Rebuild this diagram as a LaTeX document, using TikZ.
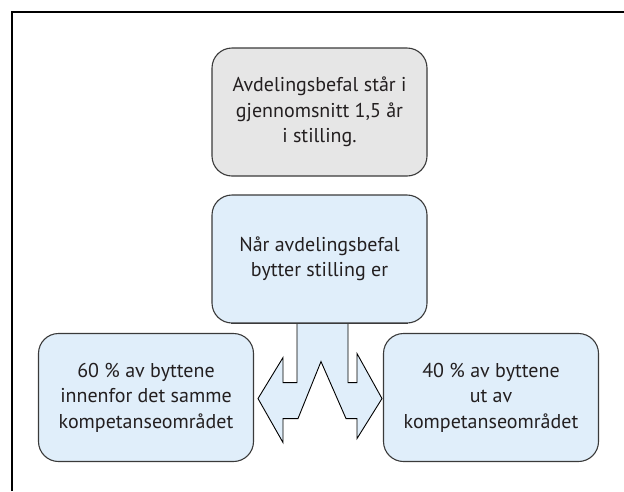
\documentclass[tikz,border=0pt]{standalone}
\usepackage{fontspec}
\setmainfont{PT Sans}
\usetikzlibrary{calc}
\definecolor{boxgray}{HTML}{E6E6E6}
\definecolor{boxblue}{HTML}{E0EEFA}
\definecolor{edge}{HTML}{3A3A3A}
\definecolor{ink}{HTML}{231F20}
\begin{document}
\begin{tikzpicture}[x=1pt,y=-1pt,
  infobox/.style={draw=edge, line width=1.1pt, rounded corners=20pt,
    minimum width=215pt, minimum height=128pt, align=center,
    text=ink, font=\fontsize{20}{25.5}\selectfont, inner sep=0pt},
  graybox/.style={infobox, fill=boxgray},
  bluebox/.style={infobox, fill=boxblue},
  fork/.style={draw=black, line width=0.9pt, fill=boxblue, line join=miter}]
\useasboundingbox (0,0) rectangle (624,491);
% frame lines along the top and left
\draw[line width=2pt] (12,491) -- (12,12) -- (624,12);

\node[graybox] (avg) at (319.5,112) {Avdelingsbefal står i\\gjennomsnitt 1,5 år\\i stilling.};
\node[bluebox] (switch) at (319.5,259) {Når avdelingsbefal\\bytter stilling er};
\node[bluebox] (inside) at (146,397.5) {60 \% av byttene\\innenfor det samme\\kompetanseområdet};
\node[bluebox] (outside) at (491,397.5) {40 \% av byttene\\ut av\\kompetanseområdet};

% split arrow below the middle box, open at the top
\begin{scope}[shift={(switch.south)}]
\draw[fork] (-22.5,0) -- (-22.5,59) -- (-36.5,59) -- (-36.5,34) -- (-61.5,75)
  -- (-36.5,119) -- (-36.5,95) -- (-21.5,95) -- (1.5,38) -- (26.5,95)
  -- (37.5,95) -- (37.5,115) -- (62.5,75) -- (37.5,30) -- (37.5,59)
  -- (28.5,59) -- (28.5,0);
\end{scope}
\draw[draw=edge, line width=1.1pt] ($(switch.south west)+(20,0)$) -- ($(switch.south east)+(-20,0)$);
\end{tikzpicture}
\end{document}
